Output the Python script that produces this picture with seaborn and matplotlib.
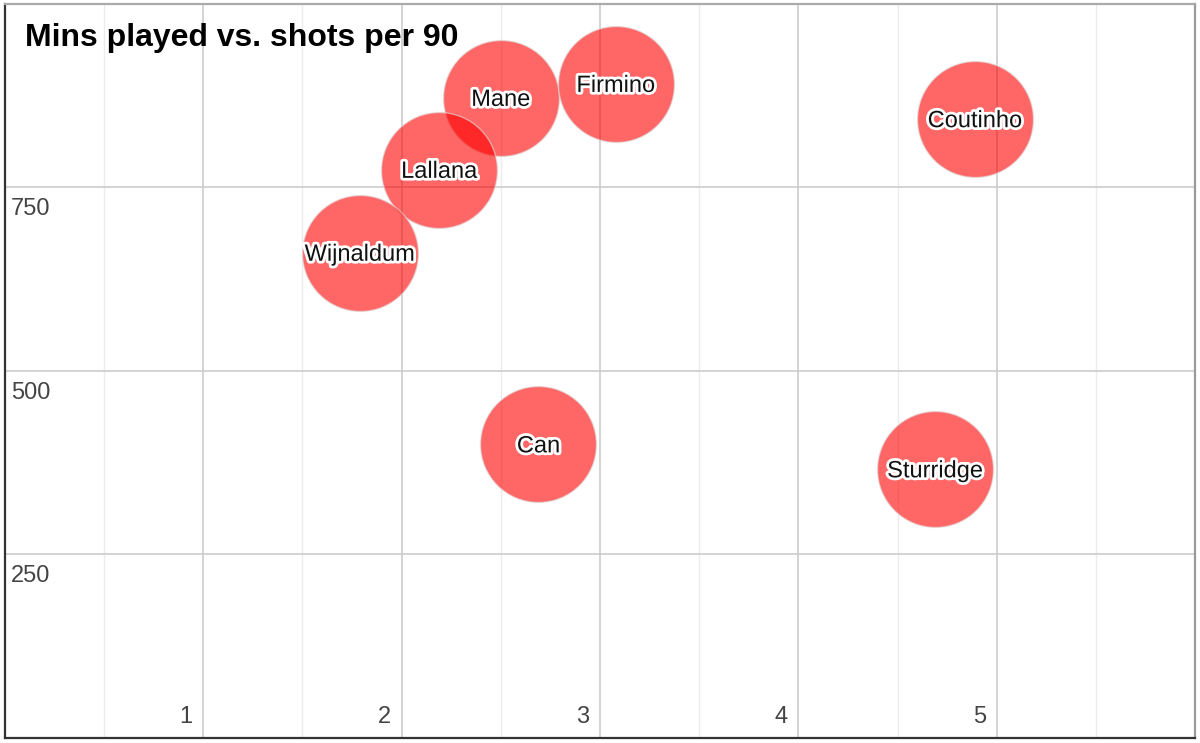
import matplotlib
matplotlib.use("Agg")
import matplotlib.pyplot as plt
import matplotlib.patheffects as pe
import seaborn as sns
import pandas as pd

players = ["Mane", "Firmino", "Coutinho", "Lallana", "Wijnaldum", "Can", "Sturridge"]
shots_per_90 = [2.50, 3.08, 4.89, 2.19, 1.79, 2.69, 4.69]
mins_played = [872, 891, 843, 774, 661, 400, 366]
x_ticks = [1, 2, 3, 4, 5]
y_ticks = [250, 500, 750]
title = "Mins played vs. shots per 90"

df = pd.DataFrame({"player": players, "shots": shots_per_90, "mins": mins_played})

sns.set_style("white")
plt.rcParams["font.family"] = ["Liberation Sans", "DejaVu Sans"]

fig = plt.figure(figsize=(12, 7.43), dpi=100)
ax = fig.add_axes([0.004, 0.007, 0.992, 0.988])
ax.set_xlim(0, 6)
ax.set_ylim(0, 1000)

# gridlines
for v in [0.5 + i for i in range(6)]:
    ax.axvline(v, color="#ececec", lw=1.0, zorder=0)
for v in x_ticks:
    ax.axvline(v, color="#cccccc", lw=1.2, zorder=0)
for v in y_ticks:
    ax.axhline(v, color="#cccccc", lw=1.2, zorder=0)

sns.scatterplot(data=df, x="shots", y="mins", ax=ax, s=6970, color="#ff0000",
                alpha=0.6, edgecolor="#dddddd", linewidth=1, legend=False, zorder=2)

halo = [pe.withStroke(linewidth=4, foreground="white")]
for p, xv, yv in zip(players, shots_per_90, mins_played):
    ax.text(xv, yv - 3, p, ha="center", va="center", fontsize=17, color="#111111",
            path_effects=halo, zorder=3)

# tick labels inside the plot
for v in x_ticks:
    ax.annotate(str(v), xy=(v, 0), xytext=(-11, 10), textcoords="offset pixels",
                ha="right", va="bottom", fontsize=17, color="#444444")
for v in y_ticks:
    ax.annotate(str(v), xy=(0, v), xytext=(6, -11), textcoords="offset pixels",
                ha="left", va="top", fontsize=17, color="#444444")

ax.text(0.017, 0.953, title, transform=ax.transAxes, ha="left", va="center",
        fontsize=23, fontweight="bold", color="#000000")

ax.set_xticks([])
ax.set_yticks([])
ax.set_xlabel("")
ax.set_ylabel("")
for side, c in [("left", "#333333"), ("bottom", "#333333"), ("top", "#aaaaaa"), ("right", "#999999")]:
    ax.spines[side].set_visible(True)
    ax.spines[side].set_color(c)
    ax.spines[side].set_linewidth(1.6)

fig.savefig("out.png", dpi=100, facecolor="white")
